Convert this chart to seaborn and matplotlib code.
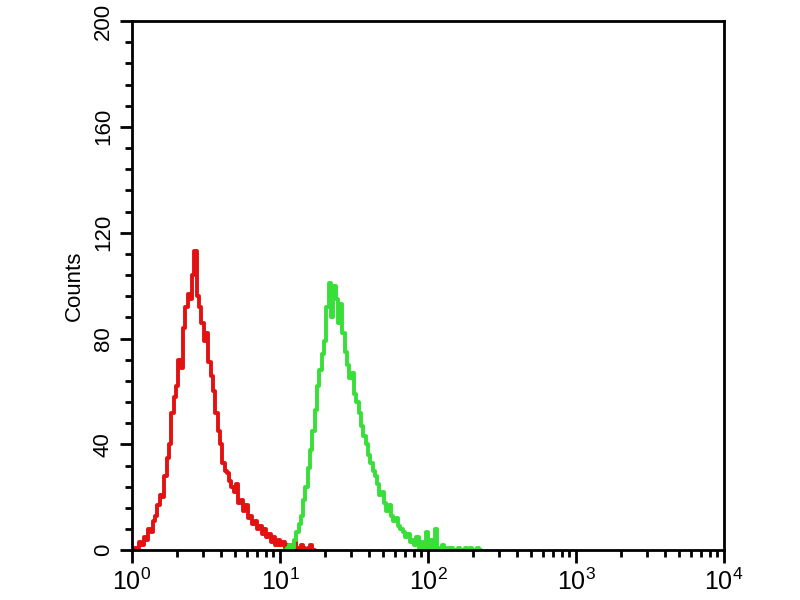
import numpy as np
import pandas as pd
import matplotlib
matplotlib.use("Agg")
import matplotlib.pyplot as plt
import seaborn as sns
from matplotlib.ticker import MultipleLocator, LogLocator, NullFormatter

# channel data: 64 channels per decade, counts
channels_per_decade = 64
red_start = 0
red_counts = [0, 1, 0, 3, 2, 5, 4, 8, 7, 11, 13, 17, 21, 20, 28, 35, 40, 52, 58, 62,
              72, 69, 84, 92, 97, 95, 104, 113, 96, 92, 86, 79, 82, 71, 66, 60, 52, 45, 40, 33,
              30, 29, 26, 24, 22, 25, 18, 19, 15, 17, 12, 13, 10, 11, 8, 9, 6, 8, 5, 6,
              3, 5, 2, 4, 2, 3, 1, 2, 2, 1, 3, 1, 0, 2, 1, 0, 1, 2, 0]
green_start = 66
green_counts = [0, 1, 2, 1, 4, 7, 10, 13, 19, 24, 31, 38, 45, 53, 62, 68, 74, 79, 92, 101,
                88, 100, 95, 86, 93, 82, 75, 70, 65, 67, 59, 56, 52, 47, 43, 40, 36, 33, 30, 28,
                25, 21, 22, 18, 15, 17, 13, 11, 12, 9, 8, 7, 5, 6, 3, 4, 2, 5, 1, 3,
                1, 7, 1, 4, 0, 8, 1, 0, 2, 0, 1, 0, 1, 0, 0, 1, 0, 0, 1, 0,
                1, 0, 0, 1, 0]
y_ticks = [0, 40, 80, 120, 160, 200]
x_ticks = [1, 10, 100, 1000, 10000]
x_labels = ["$10^{0}$", "$10^{1}$", "$10^{2}$", "$10^{3}$", "$10^{4}$"]


def to_hist(start, counts):
    ch = np.arange(start, start + len(counts) + 1)
    edges = 10 ** (ch / channels_per_decade)
    centers = np.sqrt(edges[:-1] * edges[1:])
    df = pd.DataFrame({"value": centers, "count": np.array(counts, dtype=float)})
    return df, list(edges)


sns.set_style("white")
plt.rcParams["font.family"] = ["Liberation Sans", "DejaVu Sans"]
plt.rcParams["mathtext.fontset"] = "custom"
plt.rcParams["mathtext.rm"] = "Liberation Sans"
plt.rcParams["mathtext.default"] = "regular"
plt.rcParams["text.color"] = "black"
plt.rcParams["axes.labelcolor"] = "black"
plt.rcParams["xtick.color"] = "black"
plt.rcParams["ytick.color"] = "black"

fig = plt.figure(figsize=(8, 6), dpi=100)
ax = fig.add_axes([0.165, 0.083, 0.74, 0.882])

for start, counts, color in [(red_start, red_counts, "#e21212"),
                             (green_start, green_counts, "#38df38")]:
    df, edges = to_hist(start, counts)
    sns.histplot(data=df, x="value", weights="count", bins=edges, element="step",
                 fill=False, color=color, linewidth=2.8, ax=ax)

ax.set_xscale("log")
ax.set_xlim(1, 10000)
ax.set_ylim(0, 200)

ax.set_xticks(x_ticks)
ax.set_xticklabels(x_labels, fontsize=18)
ax.xaxis.set_minor_locator(LogLocator(base=10, subs=np.arange(2, 10), numticks=20))
ax.xaxis.set_minor_formatter(NullFormatter())

ax.set_yticks(y_ticks)
ax.set_yticklabels([str(t) for t in y_ticks], fontsize=16, rotation=90, va="center")
ax.yaxis.set_minor_locator(MultipleLocator(8))

ax.tick_params(axis="both", which="major", direction="out", length=9, width=2,
               pad=4, bottom=True, left=True, top=False, right=False)
ax.tick_params(axis="both", which="minor", direction="out", length=5, width=2,
               bottom=True, left=True, top=False, right=False)

for s in ax.spines.values():
    s.set_color("black")
    s.set_linewidth(2)

ax.set_xlabel("")
ax.set_ylabel("Counts", fontsize=16, labelpad=6)

fig.savefig("out.png", dpi=100)
